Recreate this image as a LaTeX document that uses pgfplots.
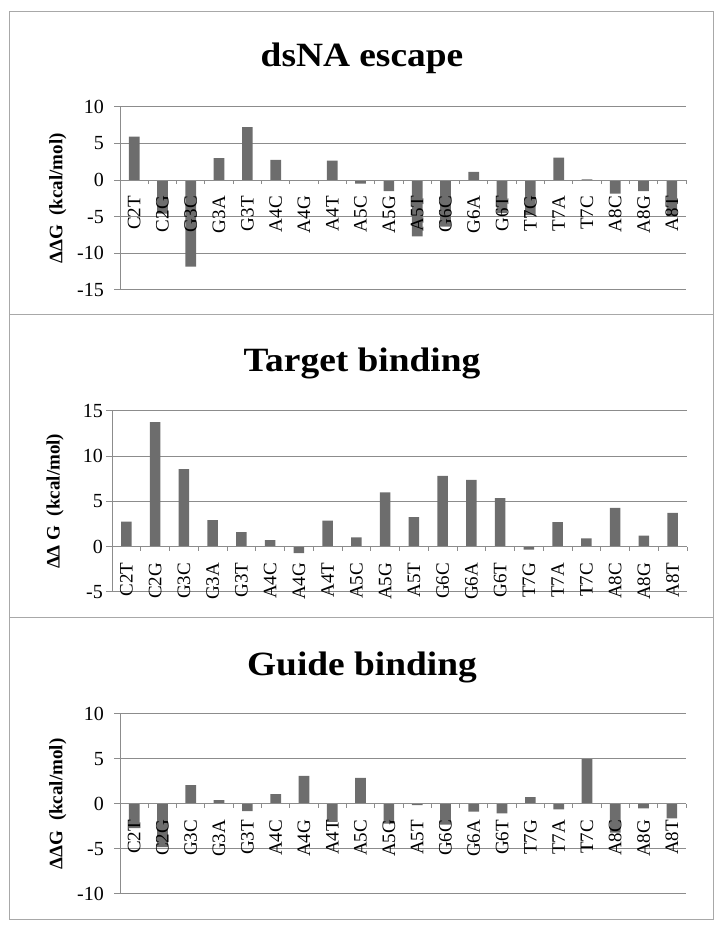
\documentclass[border=0pt]{standalone}
\usepackage{fontspec}
\setmainfont{Liberation Serif}
\newfontfamily\titlefont[FakeStretch=1.1]{Liberation Serif}
\usepackage{pgfplots}
\pgfplotsset{compat=1.18}
\definecolor{gridc}{HTML}{8C8C8C}
\definecolor{barc}{HTML}{6D6D6D}
\definecolor{borderc}{HTML}{A8A8A8}
\pgfplotsset{
  panel/.style={
    axis on top,
    scale only axis, ybar, bar width=10.7pt,
    xmin=0.5, xmax=20.5,
    xtick={1,...,20},
    xticklabels={C2T,C2G,G3C,G3A,G3T,A4C,A4G,A4T,A5C,A5G,A5T,G6C,G6A,G6T,T7G,T7A,T7C,A8C,A8G,A8T},
    axis x line=middle, axis y line=left,
    axis line style={-, draw=gridc, line width=1pt},
    xtick style={draw=none},
    ytick style={draw=gridc, line width=1pt},
    major tick length=6pt, tick align=outside,
    extra x ticks={0.5,1.5,...,20.5}, extra x tick labels={},
    extra x tick style={xtick style={draw=gridc, line width=1pt}, major tick length=4pt, tick align=outside, grid=none},
    xticklabel style={rotate=90, anchor=east, inner sep=0pt, font=\fontsize{19}{19}\selectfont},
    xticklabel shift=10pt,
    yticklabel style={anchor=east, inner sep=0pt, font=\fontsize{20}{20}\selectfont},
    /pgf/number format/assume math mode=true,
    every axis y label/.style={at={(axis description cs:-0.11,0.5)}, rotate=90, anchor=center, font=\bfseries\fontsize{19}{19}\selectfont},
    clip=false,
  }
}
\begin{document}
\begin{tikzpicture}[x=1pt,y=1pt]
\path (0,0) rectangle (724,934);
% panel borders
\draw[borderc, line width=1pt] (9,922) rectangle (713,619);
\draw[borderc, line width=1pt] (9,619) rectangle (713,316);
\draw[borderc, line width=1pt] (9,316) rectangle (713,14);
% titles
\node[anchor=base, font=\titlefont\bfseries\fontsize{34}{34}\selectfont] at (362,867) {dsNA escape};
\node[anchor=base, font=\titlefont\bfseries\fontsize{34}{34}\selectfont] at (362,562) {Target binding};
\node[anchor=base, font=\titlefont\bfseries\fontsize{34}{34}\selectfont] at (362,258) {Guide binding};

% Panel 1
\begin{axis}[panel, at={(120pt,644pt)}, anchor=south west, width=566pt, height=183.3pt,
  ymin=-15, ymax=10, ytick={-15,-10,...,10}, yticklabel shift=10pt,
  ylabel={ΔΔG\ \ (kcal/mol)}]
\pgfplotsinvokeforeach{-15,-10,-5,5,10}{\draw[gridc, line width=1pt] (axis cs:0.5,#1) -- (axis cs:20.5,#1);}
\addplot[fill=barc, draw=none] coordinates {
(1,5.9) (2,-4.6) (3,-11.8) (4,3.0) (5,7.2) (6,2.75) (7,-0.1) (8,2.65) (9,-0.5) (10,-1.5)
(11,-7.7) (12,-6.35) (13,1.1) (14,-4.5) (15,-4.8) (16,3.05) (17,0.1) (18,-1.85) (19,-1.5) (20,-5.0)};
\end{axis}

% Panel 2
\begin{axis}[panel, at={(112pt,342pt)}, anchor=south west, width=575pt, height=181.3pt,
  ymin=-5, ymax=15, ytick={-5,0,...,15}, yticklabel shift=3pt,
  every axis y label/.append style={at={(axis description cs:-0.099,0.5)}},
  ylabel={ΔΔ G\ \ (kcal/mol)}]
\pgfplotsinvokeforeach{-5,5,10,15}{\draw[gridc, line width=1pt] (axis cs:0.5,#1) -- (axis cs:20.5,#1);}
\addplot[fill=barc, draw=none] coordinates {
(1,2.75) (2,13.75) (3,8.55) (4,2.93) (5,1.6) (6,0.73) (7,-0.7) (8,2.86) (9,1.03) (10,5.98)
(11,3.26) (12,7.8) (13,7.37) (14,5.35) (15,-0.33) (16,2.7) (17,0.92) (18,4.29) (19,1.21) (20,3.74)};
\end{axis}

% Panel 3
\begin{axis}[panel, at={(120pt,40pt)}, anchor=south west, width=566pt, height=180.3pt,
  ymin=-10, ymax=10, ytick={-10,-5,...,10}, yticklabel shift=10pt,
  ylabel={ΔΔG\ \ (kcal/mol)}]
\pgfplotsinvokeforeach{-10,-5,5,10}{\draw[gridc, line width=1pt] (axis cs:0.5,#1) -- (axis cs:20.5,#1);}
\addplot[fill=barc, draw=none] coordinates {
(1,-2.7) (2,-4.8) (3,2.07) (4,0.4) (5,-0.8) (6,1.07) (7,3.1) (8,-2.0) (9,2.88) (10,-2.2)
(11,-0.15) (12,-2.3) (13,-0.85) (14,-1.05) (15,0.75) (16,-0.6) (17,4.95) (18,-3.2) (19,-0.5) (20,-1.6)};
\end{axis}
\end{tikzpicture}
\end{document}
